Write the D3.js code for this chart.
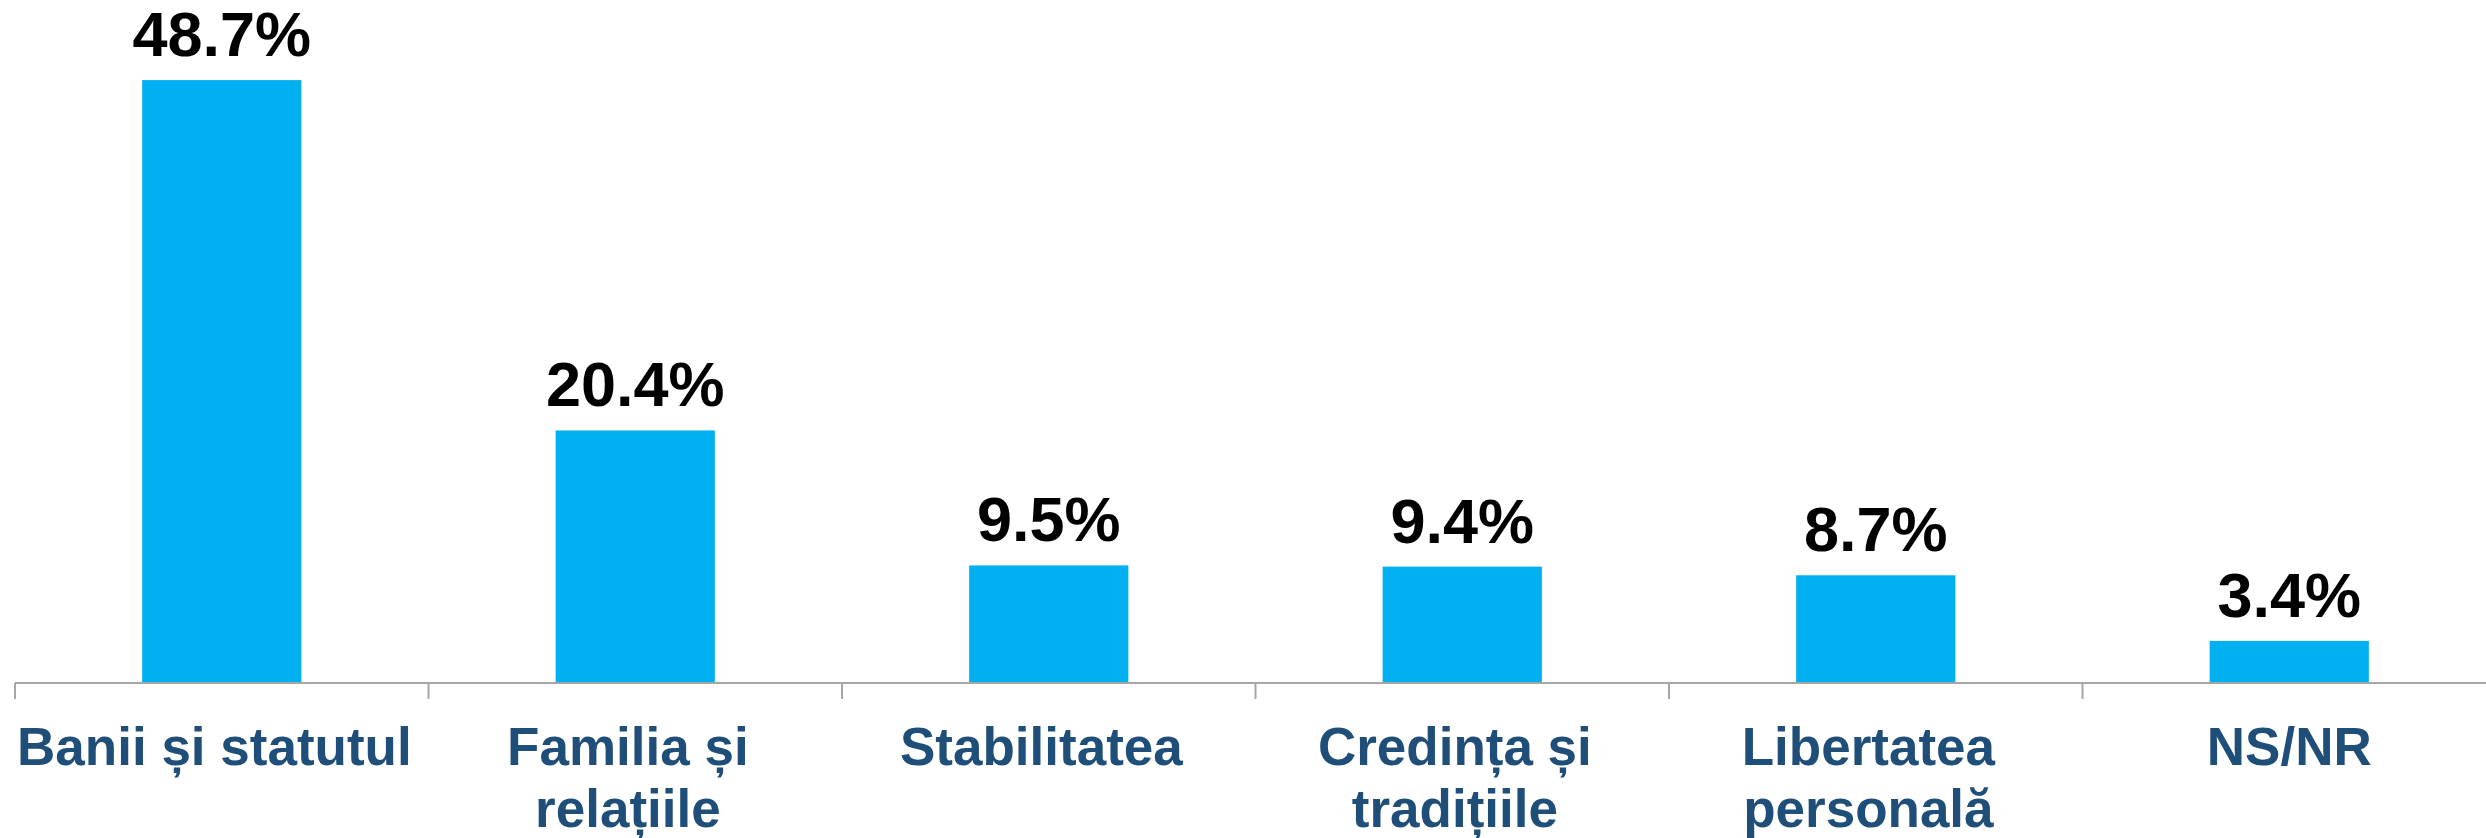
<!DOCTYPE html>
<html>
<head>
<meta charset="utf-8">
<script src="https://cdn.jsdelivr.net/npm/d3@7"></script>
<style>
  html, body { margin: 0; padding: 0; background: #fff; }
  svg { display: block; }
  .cat { white-space: pre; }
</style>
</head>
<body>
<svg id="chart" width="2486" height="838"></svg>
<script>
const categories = ["Banii și statutul", "Familia și relațiile", "Stabilitatea", "Credința și tradițiile", "Libertatea personală", "NS/NR"];
const values = [48.7, 20.4, 9.5, 9.4, 8.7, 3.4];
const valueLabels = ["48.7%", "20.4%", "9.5%", "9.4%", "8.7%", "3.4%"];
// labels as typed in the source (trailing space after wrapped words)
const trailingSpace = [true, true, true, true, true, false];

const W = 2486, H = 838;
const svg = d3.select("#chart");
const font = "'Liberation Sans', Arial, sans-serif";

const x0 = 15, step = 413.5;
const x = d3.scaleBand()
  .domain(categories)
  .range([x0, x0 + step * categories.length])
  .paddingInner(0.615)
  .paddingOuter(0.3075);

const baseY = 683;
const pxPerUnit = 12.38;
const y = d3.scaleLinear().domain([0, 55]).range([baseY, baseY - 55 * pxPerUnit]);

// Bars
svg.append("g").selectAll("rect")
  .data(categories)
  .join("rect")
  .attr("x", d => x(d))
  .attr("y", (d, i) => y(values[i]))
  .attr("width", x.bandwidth())
  .attr("height", (d, i) => y(0) - y(values[i]))
  .attr("fill", "#00B0F0");

// Axis line and ticks at category boundaries
const axisG = svg.append("g");
axisG.append("line")
  .attr("x1", x0).attr("x2", W)
  .attr("y1", baseY).attr("y2", baseY)
  .attr("stroke", "#a6a6a6").attr("stroke-width", 2);
const bounds = d3.range(categories.length + 1).map(i => x0 + i * x.step());
axisG.selectAll("line.tick")
  .data(bounds)
  .join("line")
  .attr("class", "tick")
  .attr("x1", d => d).attr("x2", d => d)
  .attr("y1", baseY).attr("y2", baseY + 16)
  .attr("stroke", "#a6a6a6").attr("stroke-width", 2);

// Value labels
svg.append("g").selectAll("text")
  .data(categories)
  .join("text")
  .attr("x", d => x(d) + x.bandwidth() / 2)
  .attr("y", (d, i) => y(values[i]) - 24)
  .attr("text-anchor", "middle")
  .attr("font-family", font)
  .attr("font-weight", "bold")
  .attr("font-size", 63)
  .attr("fill", "#000")
  .text((d, i) => valueLabels[i]);

// Category labels with wrapping
const labelG = svg.append("g");
categories.forEach((cat, ci) => {
  const cx = x(cat) + x.bandwidth() / 2;
  const sp = trailingSpace[ci] ? " " : "";
  const t = labelG.append("text")
    .attr("class", "cat")
    .attr("x", cx)
    .attr("y", 765)
    .attr("text-anchor", "middle")
    .attr("font-family", font)
    .attr("font-weight", "bold")
    .attr("font-size", 53)
    .attr("fill", "#1F4E79");
  const words = cat.split(" ");
  let line = [];
  let lineNo = 0;
  let tspan = t.append("tspan").attr("x", cx).attr("y", 765);
  words.forEach(w => {
    line.push(w);
    tspan.text(line.join(" "));
    if (tspan.node().getComputedTextLength() > x.step() * 0.98 && line.length > 1) {
      line.pop();
      tspan.text(line.join(" ") + sp);
      line = [w];
      lineNo++;
      tspan = t.append("tspan").attr("x", cx).attr("y", 765 + lineNo * 62).text(w);
    }
  });
  tspan.text(line.join(" ") + sp);
});
</script>
</body>
</html>
